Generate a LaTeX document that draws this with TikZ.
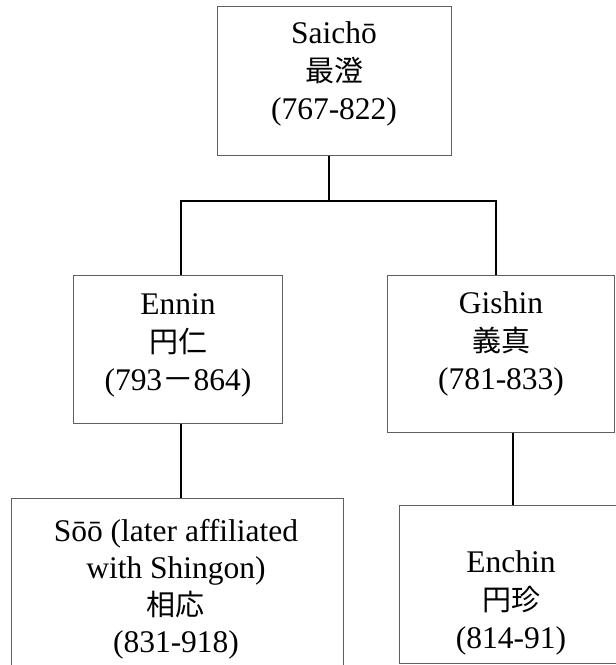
\documentclass[tikz,border=0pt]{standalone}
\usepackage{fontspec}
\setmainfont{Liberation Serif}
\newfontfamily\cjk{Noto Sans CJK JP}
\newcommand{\kj}[1]{{\cjk\fontsize{29}{38}\selectfont #1}}
\begin{document}
\begin{tikzpicture}[x=1pt,y=-1pt,
  person/.style={draw={rgb,255:red,95;green,95;blue,95}, line width=1pt,
    rectangle, inner sep=0pt, fill=none},
  names/.style={align=center, inner sep=0pt,
    font=\fontsize{31.5}{38}\selectfont},
  link/.style={draw=black, line width=1.7pt}]
  \path[use as bounding box] (0,0) rectangle (616,665);
  \clip (0,0) rectangle (616,665);

  % lineage boxes
  \node[person, minimum width=234pt, minimum height=149pt] (saicho) at (334,80.5) {};
  \node[person, minimum width=209pt, minimum height=148pt] (ennin) at (177.5,349) {};
  \node[person, minimum width=227pt, minimum height=157pt] (gishin) at (500.5,353.5) {};
  \node[person, minimum width=332pt, minimum height=202pt] (soo) at (177,599) {};
  \node[person, minimum width=221pt, minimum height=158pt] (enchin) at (509.5,584) {};

  % names, characters and dates
  \node[names] (saicho-t) at (334,74) {Saichō\\\kj{最澄}\\(767-822)};
  \node[names] (ennin-t) at (178,345) {Ennin\\\kj{円仁}\\(793{\cjk\fontsize{31.5}{38}\selectfont －}864)};
  \node[names] (gishin-t) at (501,344) {Gishin\\\kj{義真}\\(781-833)};
  \node[names, font=\fontsize{31.5}{37}\selectfont] (soo-t) at (176,589)
    {Sōō (later affiliated\\with Shingon)\\\kj{相応}\\(831-918)};
  \node[names] (enchin-t) at (511,603) {Enchin\\\kj{円珍}\\(814-91)};

  % succession lines
  \coordinate (hub) at (329,201);
  \draw[link] ([xshift=-5pt]saicho.south) -- (hub);
  \draw[link] ([xshift=3.5pt]ennin.north) |- (hub);
  \draw[link] ([xshift=-4.5pt]gishin.north) |- (hub);
  \draw[link] ([xshift=3.5pt]ennin.south) -- ([xshift=4pt]soo.north);
  \draw[link] ([xshift=12.5pt]gishin.south) -- ([xshift=3.5pt]enchin.north);
\end{tikzpicture}
\end{document}
